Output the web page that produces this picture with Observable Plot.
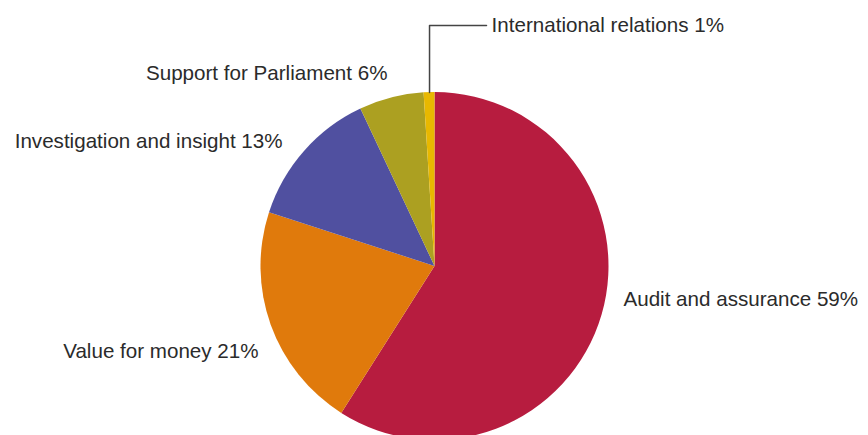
<!DOCTYPE html>
<html><head><meta charset="utf-8">
<script src="https://cdn.jsdelivr.net/npm/d3@7"></script>
<script src="https://cdn.jsdelivr.net/npm/@observablehq/plot@0.6"></script>
<style>body{margin:0;background:#fff;overflow:hidden}</style>
</head><body><div id="chart"></div>
<script>
// Data
const categories = ["Audit and assurance", "Value for money", "Investigation and insight", "Support for Parliament", "International relations"];
const shares = [59, 21, 13, 6, 1];
const labelTexts = ["Audit and assurance 59%", "Value for money 21%", "Investigation and insight 13%", "Support for Parliament 6%", "International relations 1%"];

// Styles / layout (kept separate from data)
const colors = ["#b71c3f", "#e07a0c", "#5050a0", "#aca021", "#e8b800"];
const W = 868, H = 435, CX = 434.5, CY = 266, R = 174;
// label anchor positions in pie-radius units (center = 0,0)
const labelPos = [
  {x: 1.083, y: -0.190, anchor: "start"},
  {x: -1.014, y: -0.489, anchor: "end"},
  {x: -0.876, y: 0.718, anchor: "end"},
  {x: -0.273, y: 1.109, anchor: "end"},
  {x: 0.325, y: 1.385, anchor: "start"}
];

const rows = categories.map((c, i) => ({category: c, share: shares[i], label: labelTexts[i], color: colors[i], ...labelPos[i]}));
const arcs = d3.pie().sort(null).value(d => d.share)(rows);

// leader for the small "International relations" slice
const intl = arcs[4];
const mid = (intl.startAngle + intl.endAngle) / 2;
const lx = Math.sin(mid);
const leader = [
  {x: lx, y: Math.cos(mid)},
  {x: lx, y: 1.385},
  {x: 0.296, y: 1.385}
];

function pieMark(index, scales) {
  const {x, y} = scales;
  const cx = x(0), cy = y(0), r = x(1) - x(0);
  const arc = d3.arc().innerRadius(0).outerRadius(r);
  const g = d3.create("svg:g").attr("transform", `translate(${cx},${cy})`);
  g.selectAll("path").data(arcs).join("path")
    .attr("d", arc)
    .attr("fill", d => d.data.color);
  return g.node();
}

const chart = Plot.plot({
  width: W, height: H,
  margin: 0,
  x: {domain: [-CX / R, (W - CX) / R], range: [0, W], axis: null},
  y: {domain: [-(H - CY) / R, CY / R], range: [H, 0], axis: null},
  style: {fontFamily: "'Liberation Sans', Arial, Helvetica, sans-serif", background: "#fff"},
  marks: [
    pieMark,
    Plot.line(leader, {x: "x", y: "y", stroke: "#444", strokeWidth: 1.5}),
    Plot.text(rows.filter(d => d.anchor === "start"), {x: "x", y: "y", text: "label", textAnchor: "start", fontSize: 20.6, fill: "#2b2b2b"}),
    Plot.text(rows.filter(d => d.anchor === "end"), {x: "x", y: "y", text: "label", textAnchor: "end", fontSize: 20.6, fill: "#2b2b2b"})
  ]
});
document.getElementById("chart").append(chart);
</script>
</body></html>
